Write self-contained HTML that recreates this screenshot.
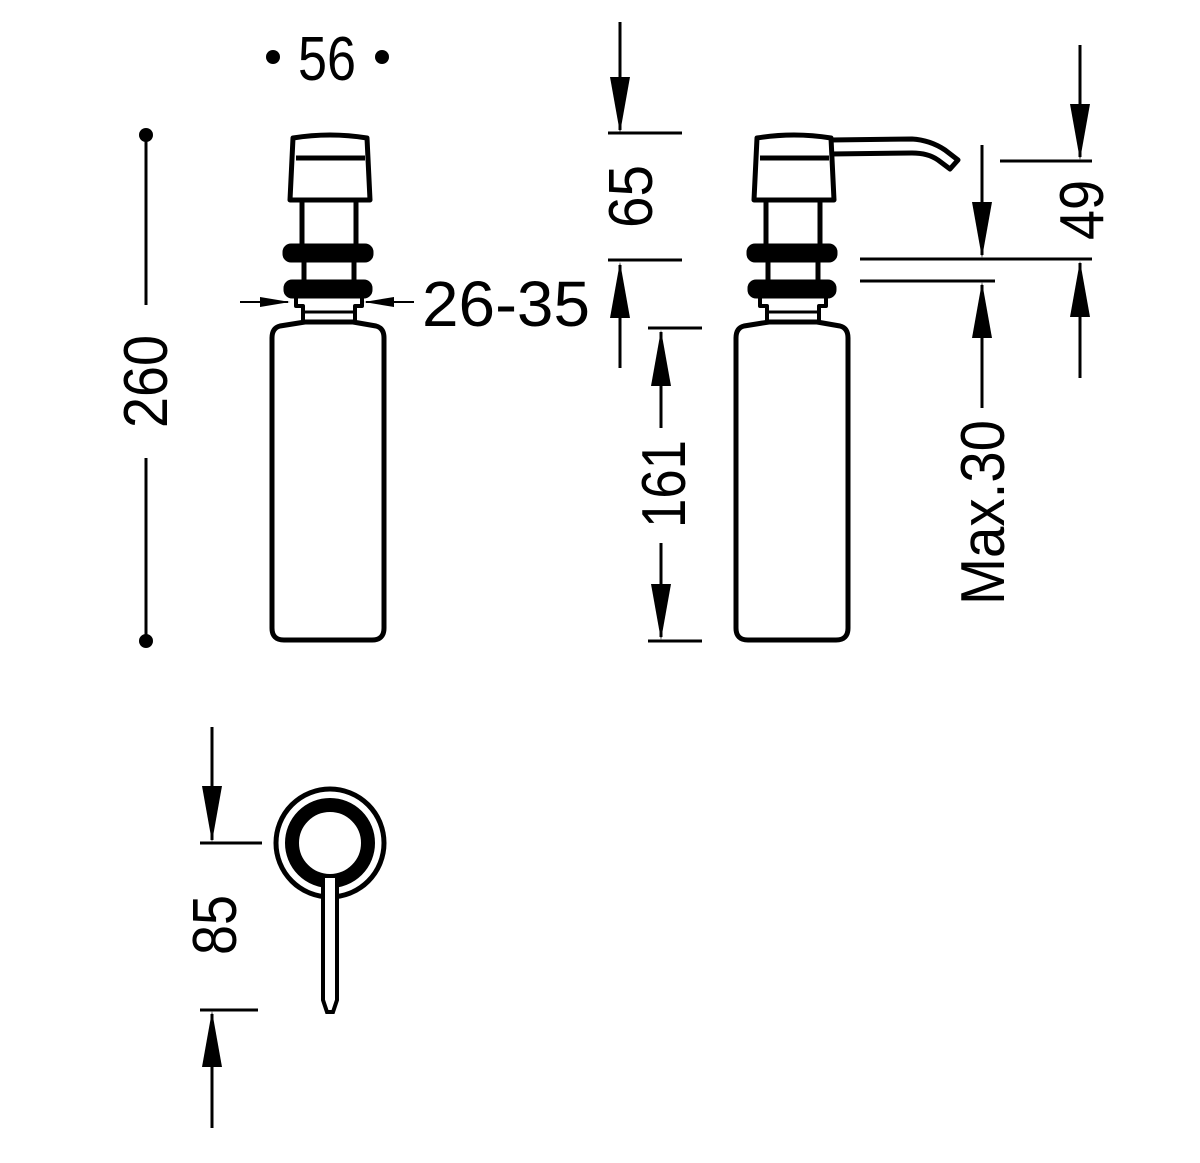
<!DOCTYPE html>
<html><head><meta charset="utf-8"><style>
html,body{margin:0;padding:0;background:#fff}
svg{display:block}
text{font-family:"Liberation Sans Narrow","Liberation Sans",sans-serif;fill:#000}
</style></head><body>
<svg width="1200" height="1163" viewBox="0 0 1200 1163" xmlns="http://www.w3.org/2000/svg">
<defs>
<g id="pump" fill="none" stroke="#000" stroke-width="5" stroke-linejoin="round">
  <path d="M293,138 Q330,132 367,138 L370,200 L290,200 Z"/>
  <line x1="296" y1="158" x2="365" y2="158"/>
  <rect x="302" y="200" width="54" height="46"/>
  <rect x="285" y="246" width="86" height="14" rx="6" fill="#000"/>
  <rect x="304" y="260" width="50" height="22"/>
  <rect x="286" y="282" width="84" height="14" rx="6" fill="#000"/>
  <path d="M296,296 L362,296 L362,306 L355,306 L355,322 L303,322 L303,306 L296,306 Z" stroke-width="4"/>
  <line x1="305" y1="312" x2="353" y2="312" stroke-width="3"/>
  <path d="M305,322 L353,322 L376,326 Q384,328 384,338 L384,628 Q384,640 372,640 L284,640 Q272,640 272,628 L272,338 Q272,328 280,326 Z"/>
</g>
<path id="ad" d="M-10,-56 L10,-56 L0,0 Z" fill="#000"/>
<path id="au" d="M-10,56 L10,56 L0,0 Z" fill="#000"/>
</defs>

<use href="#pump"/>
<use href="#pump" transform="translate(464,0)"/>
<path d="M830,140 L912,139 Q930,140 945,150 L958,160 L950,169 L938,160 Q928,153 912,153 L830,154" fill="none" stroke="#000" stroke-width="5" stroke-linejoin="round"/>

<g stroke="#000" stroke-width="3" fill="none">
  <line x1="146" y1="135" x2="146" y2="305"/>
  <line x1="146" y1="458" x2="146" y2="640"/>
  <!-- 65 -->
  <line x1="620" y1="22" x2="620" y2="130"/>
  <line x1="608" y1="133" x2="682" y2="133"/>
  <line x1="608" y1="260" x2="682" y2="260"/>
  <line x1="620" y1="368" x2="620" y2="265"/>
  <!-- 161 -->
  <line x1="648" y1="328" x2="702" y2="328"/>
  <line x1="648" y1="641" x2="702" y2="641"/>
  <line x1="661" y1="428" x2="661" y2="332"/>
  <line x1="661" y1="543" x2="661" y2="637"/>
  <!-- Max.30 -->
  <line x1="982" y1="145" x2="982" y2="255"/>
  <line x1="860" y1="259" x2="1092" y2="259"/>
  <line x1="860" y1="281" x2="995" y2="281"/>
  <line x1="982" y1="408" x2="982" y2="285"/>
  <!-- 49 -->
  <line x1="1080" y1="45" x2="1080" y2="157"/>
  <line x1="1000" y1="161" x2="1092" y2="161"/>
  <line x1="1080" y1="378" x2="1080" y2="263"/>
  <!-- 26-35 -->
  <line x1="240" y1="302" x2="288" y2="302" stroke-width="2"/>
  <line x1="414" y1="302" x2="366" y2="302" stroke-width="2"/>
  <!-- 85 -->
  <line x1="212" y1="727" x2="212" y2="840"/>
  <line x1="200" y1="843" x2="262" y2="843"/>
  <line x1="200" y1="1010" x2="258" y2="1010"/>
  <line x1="212" y1="1128" x2="212" y2="1014"/>
</g>
<use href="#ad" x="620" y="133"/>
<use href="#au" x="620" y="262"/>
<use href="#au" x="661" y="330"/>
<use href="#ad" x="661" y="640"/>
<use href="#ad" x="982" y="258"/>
<use href="#au" x="982" y="282"/>
<use href="#ad" x="1080" y="160"/>
<use href="#au" x="1080" y="261"/>
<use href="#ad" x="212" y="842"/>
<use href="#au" x="212" y="1011"/>
<path d="M260,297 L290,302 L260,307 Z" fill="#000"/>
<path d="M394,297 L364,302 L394,307 Z" fill="#000"/>

<circle cx="146" cy="135" r="7" fill="#000"/>
<circle cx="146" cy="641" r="7" fill="#000"/>
<circle cx="273" cy="57" r="7" fill="#000"/>
<circle cx="382" cy="57" r="7" fill="#000"/>

<circle cx="330" cy="843" r="54" fill="none" stroke="#000" stroke-width="5"/>
<circle cx="330" cy="843" r="38" fill="none" stroke="#000" stroke-width="14"/>
<path d="M323,878 L323,1000 L327,1012 L333,1012 L337,1000 L337,878" fill="#fff" stroke="#000" stroke-width="4"/>

<text x="298" y="80" font-size="62" textLength="58" lengthAdjust="spacingAndGlyphs">56</text>
<text x="422" y="326" font-size="64" textLength="168" lengthAdjust="spacingAndGlyphs">26-35</text>
<text transform="translate(167,428) rotate(-90)" font-size="62" textLength="93" lengthAdjust="spacingAndGlyphs">260</text>
<text transform="translate(652,228) rotate(-90)" font-size="62" textLength="63" lengthAdjust="spacingAndGlyphs">65</text>
<text transform="translate(685,528) rotate(-90)" font-size="62" textLength="88" lengthAdjust="spacingAndGlyphs">161</text>
<text transform="translate(1004,605) rotate(-90)" font-size="62" textLength="185" lengthAdjust="spacingAndGlyphs">Max.30</text>
<text transform="translate(1103,240) rotate(-90)" font-size="62" textLength="60" lengthAdjust="spacingAndGlyphs">49</text>
<text transform="translate(236,955) rotate(-90)" font-size="62" textLength="60" lengthAdjust="spacingAndGlyphs">85</text>
</svg>
</body></html>
